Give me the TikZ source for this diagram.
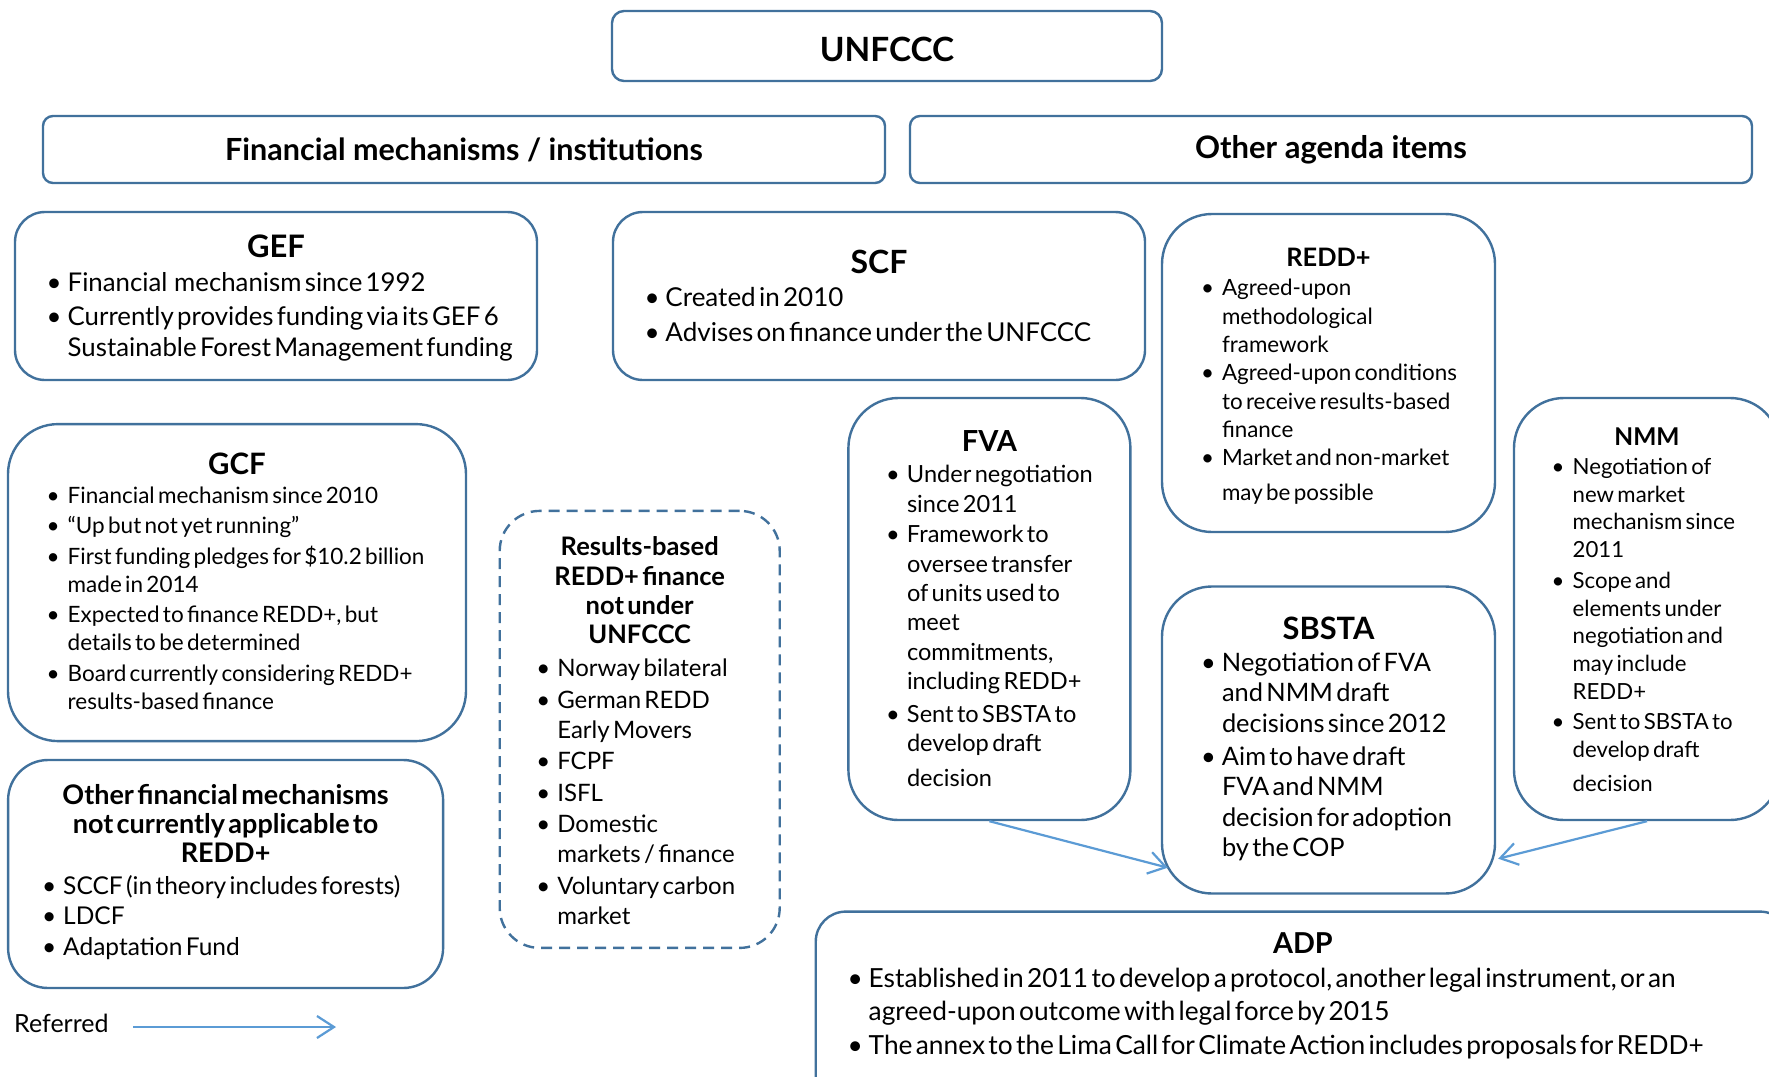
\documentclass[tikz,border=0pt]{standalone}
\usepackage{fontspec}
\setmainfont{Lato}
\usetikzlibrary{arrows.meta,calc}
\definecolor{bordblue}{RGB}{65,113,156}
\definecolor{arrblue}{RGB}{91,155,213}
\newcommand\BL[1]{\par\noindent\llap{\hbox to 21pt{\textbullet\hss}}\mbox{#1}}
\newcommand\CL[1]{\par\noindent\mbox{#1}}
\newcommand\TL[1]{\par\hbox to\hsize{\hss\bfseries #1\hss}}
\newcommand\GAP[1]{\par\vspace*{#1pt}}
\newcommand\TRAIL[1]{\par\vspace*{#1pt}\kern0pt}
\newcommand\FS[2]{\fontsize{#1}{#2}\selectfont\parskip=0pt\parindent=0pt}
\begin{document}
\begin{tikzpicture}[x=1pt,y=-1pt,
  bx/.style={draw=bordblue,line width=2.4pt,rounded corners=#1,inner sep=0pt,align=left},
  dbx/.style={bx=#1,dash pattern=on 11pt off 7pt},
  arr/.style={draw=arrblue,line width=2.2pt,-{Straight Barb[length=17pt,width=22pt]}}]
\fill[white] (0,0) rectangle (1769,1076);
\useasboundingbox (0,0) rectangle (1769,1076);

\node[bx=12pt,minimum width=550pt,minimum height=70pt,align=center,text height=35pt,text depth=4.2pt] (unfccc) at (887,46)
  {\fontsize{33.4}{38}\selectfont\bfseries UNFCCC};
\node[bx=10pt,minimum width=842pt,minimum height=67pt,align=center] (fin) at (464,149.5)
  {\fontsize{30.5}{34}\selectfont\bfseries Financial mechanisms / institutions};
\node[bx=10pt,minimum width=842pt,minimum height=67pt,align=center] (oth) at (1331,149.5)
  {\fontsize{31}{34}\selectfont\bfseries Other agenda items};

\node[bx=30pt,minimum width=522pt,minimum height=168pt,text width=416.6pt] (gef) at (276,296)
  {\FS{25.8}{31}\TL{\fontsize{31}{31}\selectfont GEF}\GAP{3}
   \BL{Financial\ \ mechanism since 1992}\GAP{3}
   \BL{Currently provides funding via its GEF 6}
   \CL{Sustainable Forest Management funding}\TRAIL{4.5}};

\node[bx=30pt,minimum width=532pt,minimum height=168pt,text width=427pt] (scf) at (879,296)
  {\FS{26}{35}\TL{\fontsize{32}{35}\selectfont SCF}\GAP{-2}
   \BL{Created in 2010}
   \BL{Advises on finance under the UNFCCC}\TRAIL{12}};

\node[bx=50pt,minimum width=333pt,minimum height=318pt,text width=213pt] (redd) at (1328.5,373)
  {\FS{22.4}{28.3}\TL{\fontsize{25.4}{28}\selectfont REDD+}\GAP{1}
   \BL{Agreed-upon}\CL{methodological}\CL{framework}
   \BL{Agreed-upon conditions}\CL{to receive results-based}\CL{finance}
   \BL{Market and non-market}\GAP{6.5}\CL{may be possible}\TRAIL{3.5}};

\node[bx=50pt,minimum width=458pt,minimum height=317pt,text width=338.6pt] (gcf) at (237,582.6)
  {\FS{22.5}{28}\TL{\fontsize{29.5}{28}\selectfont GCF}\GAP{1}
   \BL{Financial mechanism since 2010}\GAP{2.5}
   \BL{“Up but not yet running”}\GAP{2.5}
   \BL{First funding pledges for \$10.2 billion}\CL{made in 2014}\GAP{2.5}
   \BL{Expected to finance REDD+, but}\CL{details to be determined}\GAP{2.5}
   \BL{Board currently considering REDD+}\CL{results-based finance}\TRAIL{10}};

\node[bx=40pt,minimum width=435pt,minimum height=228pt,text width=324.8pt] (ofm) at (225.6,874)
  {\FS{24.5}{29.3}\TL{\fontsize{27}{29.5}\selectfont Other financial mechanisms}
   \TL{\fontsize{27}{29.5}\selectfont not currently applicable to}
   \TL{\fontsize{27}{29.5}\selectfont REDD+}\GAP{1}\baselineskip=30.5pt
   \BL{SCCF (in theory includes forests)}
   \BL{LDCF}
   \BL{Adaptation Fund}\TRAIL{13.5}};

\node[dbx=40pt,minimum width=280pt,minimum height=437pt,text width=164.8pt] (rbf) at (639.7,729.4)
  {\FS{24}{29.3}\TL{\fontsize{25.5}{29.5}\selectfont Results-based}
   \TL{\fontsize{25.5}{29.5}\selectfont REDD+ finance}
   \TL{\fontsize{25.5}{29.5}\selectfont not under}
   \TL{\fontsize{25.5}{29.5}\selectfont UNFCCC}\GAP{2.7}\baselineskip=30pt
   \BL{Norway bilateral}\GAP{1.5}
   \BL{German REDD}\CL{Early Movers}\GAP{1.5}
   \BL{FCPF}\GAP{1.5}
   \BL{ISFL}\GAP{1.5}
   \BL{Domestic}\CL{markets / finance}\GAP{1.5}
   \BL{Voluntary carbon}\CL{market}\TRAIL{8}};

\node[bx=50pt,minimum width=282pt,minimum height=422pt,text width=164.8pt] (fva) at (989.4,609)
  {\FS{23.6}{29.4}\TL{\fontsize{29}{29}\selectfont FVA}\GAP{2}
   \BL{Under negotiation}\CL{since 2011}\GAP{1}
   \BL{Framework to}\CL{oversee transfer}\CL{of units used to}\CL{meet}\CL{commitments,}\CL{including REDD+}\GAP{3.5}
   \BL{Sent to SBSTA to}\CL{develop draft}\GAP{5.5}\CL{decision}\TRAIL{9}};

\node[bx=50pt,minimum width=266pt,minimum height=422pt,text width=148.6pt] (nmm) at (1647,609)
  {\FS{22.2}{27.7}\TL{\fontsize{24.5}{27.7}\selectfont NMM}\GAP{1.5}
   \BL{Negotiation of}\CL{new market}\CL{mechanism since}\CL{2011}\GAP{3}
   \BL{Scope and}\CL{elements under}\CL{negotiation and}\CL{may include}\CL{REDD+}\GAP{3}
   \BL{Sent to SBSTA to}\CL{develop draft}\GAP{6}\CL{decision}\TRAIL{9}};

\node[bx=50pt,minimum width=333pt,minimum height=307pt,text width=213pt] (sbsta) at (1328.5,740)
  {\FS{25.4}{30.5}\TL{\fontsize{30.8}{30.5}\selectfont SBSTA}\GAP{1.2}
   \BL{Negotiation of FVA}\CL{and NMM draft}\CL{decisions since 2012}\GAP{2.5}
   \BL{Aim to have draft}\CL{FVA and NMM}\CL{decision for adoption}\CL{by the COP}\TRAIL{10}};

\node[bx=30pt,minimum width=974.3pt,minimum height=200pt,text width=868.4pt] (adp) at (1302.9,1011.6)
  {\FS{26.3}{33.5}\TL{\fontsize{28.8}{33.5}\selectfont ADP}\GAP{0}
   \BL{Established in 2011 to develop a protocol, another legal instrument, or an}
   \CL{agreed-upon outcome with legal force by 2015}
   \BL{The annex to the Lima Call for Climate Action includes proposals for REDD+}\TRAIL{44}};

\draw[arr] (fva.south) -- ([shift={(7,-27)}]sbsta.south west);
\draw[arr] (nmm.south) -- ([shift={(2,-36)}]sbsta.south east);

\node[anchor=west,inner sep=0pt,font=\fontsize{25}{28}\selectfont] (reflab) at (14,1023) {Referred};
\coordinate (ra) at (133,1027);
\coordinate (rb) at (336,1027);
\draw[arr] (ra) -- (rb);
\end{tikzpicture}
\end{document}
